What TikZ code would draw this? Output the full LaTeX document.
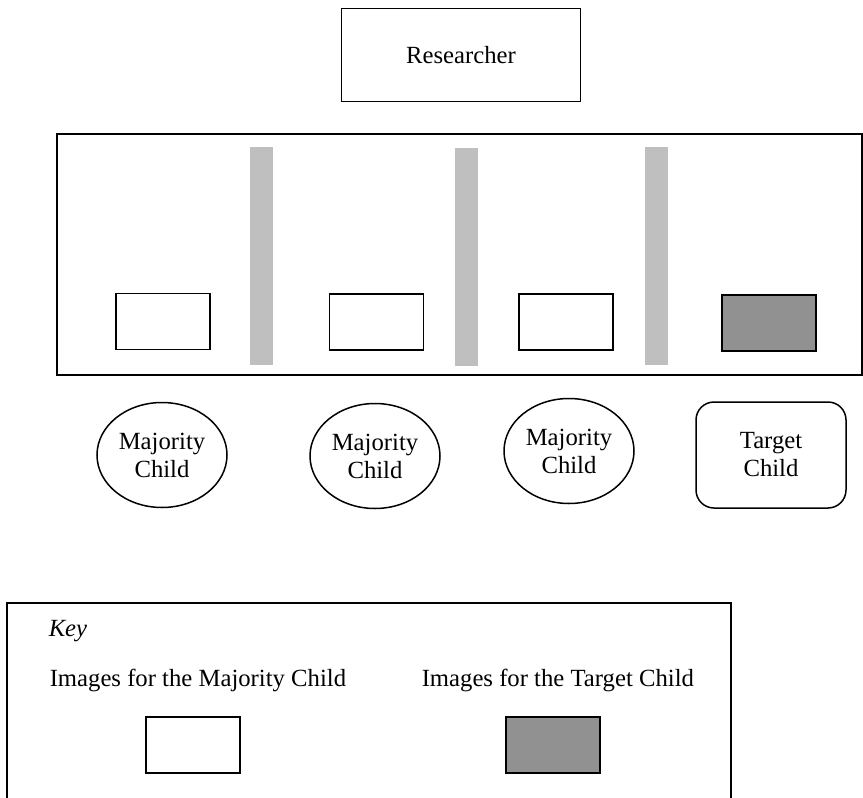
\documentclass[tikz,border=0pt]{standalone}
\usepackage{fontspec}
\setmainfont{Liberation Serif}
\usetikzlibrary{shapes.geometric}

\begin{document}
\begin{tikzpicture}[x=1pt, y=-1pt, line width=1.5pt,
    every node/.style={font=\fontsize{24.7}{28}\selectfont},
    picbox/.style={draw, rectangle, minimum width=94, minimum height=56, inner sep=0},
    divider/.style={rectangle, fill=black!25, minimum width=23, minimum height=218, inner sep=0},
    majority/.style={draw, ellipse, minimum width=130, minimum height=105, inner sep=0, align=center}]
    \useasboundingbox (0,0) rectangle (863,798);
    \node[draw, rectangle, minimum width=239, minimum height=93] (researcher) at (461,55) {Researcher};
    \node[draw, rectangle, minimum width=805, minimum height=241] (room) at (459.5,254.5) {};

    \node[divider] (bar1) at (261.5,256) {};
    \node[divider] (bar2) at (466.5,257) {};
    \node[divider] (bar3) at (656,256) {};

    \node[picbox] (pic1) at (163,321.5) {};
    \node[picbox] (pic2) at (376.5,322) {};
    \node[picbox] (pic3) at (566,322) {};
    \node[picbox, fill=black!43] (pic4) at (769,323) {};

    \node[majority] (child1) at (162,455) {Majority\\Child};
    \node[majority] (child2) at (375,456) {Majority\\Child};
    \node[majority] (child3) at (569,451) {Majority\\Child};
    \node[draw, rectangle, rounded corners=18, minimum width=150, minimum height=106, align=center] (target) at (771,455) {Target\\Child};

    % key
    \draw (7,799) |- (731,603) -- (731,799);
    \node[anchor=west, inner sep=0] (key) at (48,631) {\textit{Key}};
    \node[anchor=west, inner sep=0] (keymaj) at (49,680) {Images for the Majority Child};
    \node[anchor=west, inner sep=0] (keytgt) at (421,680) {Images for the Target Child};
    \node[picbox] (keypic1) at (193,745) {};
    \node[picbox, fill=black!43] (keypic2) at (553,745) {};
\end{tikzpicture}
\end{document}
